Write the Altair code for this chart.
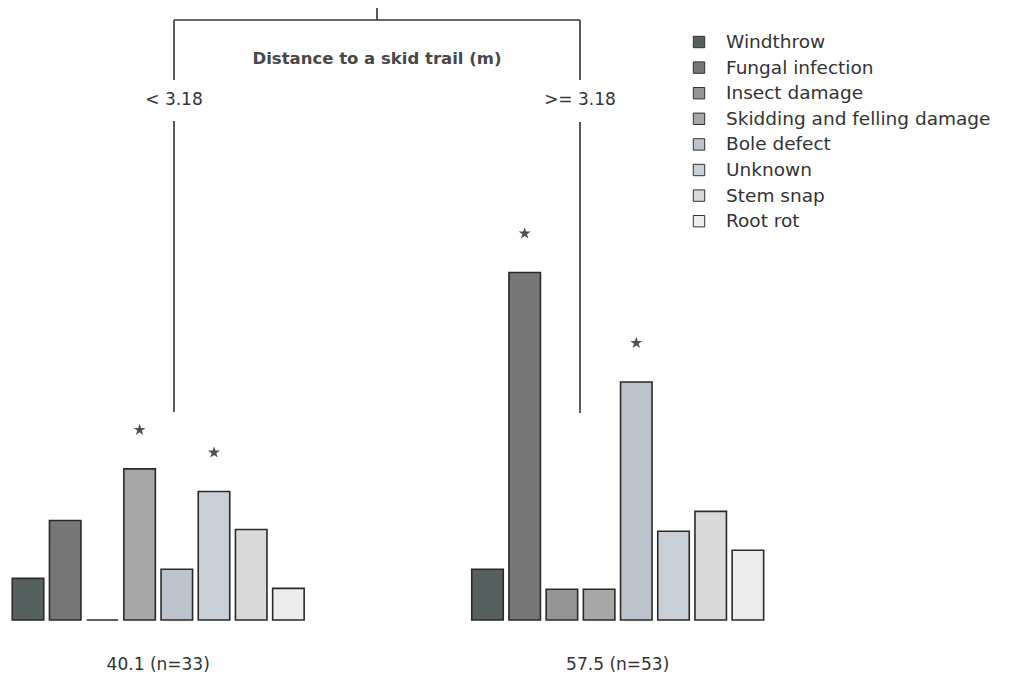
import altair as alt
import pandas as pd

# ---------------- data ----------------
causes = ["Windthrow", "Fungal infection", "Insect damage",
          "Skidding and felling damage", "Bole defect", "Unknown",
          "Stem snap", "Root rot"]
colors = ["#56605f", "#777777", "#959595", "#a7a7a7",
          "#bcc3cc", "#c9cfd7", "#d9d9d9", "#ededed"]
left_values = [2.3, 5.5, 0.0, 8.35, 2.8, 7.1, 5.0, 1.75]
right_values = [2.8, 19.2, 1.7, 1.7, 13.15, 4.9, 6.0, 3.85]
left_signif = ["Skidding and felling damage", "Unknown"]
right_signif = ["Fungal infection", "Bole defect"]
leaf_means = [40.1, 57.5]
leaf_n = [33, 53]
split_variable = "Distance to a skid trail (m)"
split_labels = ["< 3.18", ">= 3.18"]

# ---------------- layout ----------------
W, H = 1005, 665
BASE_PX = 612
PX_PER_UNIT = 18.1
PITCH = 37.2
BAR_HALF = 15.75
leaf_x0 = [20, 479.5]
branch_x = [166, 572]
root_x = (branch_x[0] + branch_x[1]) / 2
FONT = "DejaVu Sans"
TXT = "#333333"

xs = alt.Scale(domain=[0, W], nice=False, zero=False)
ys = alt.Scale(domain=[-(H - BASE_PX) / PX_PER_UNIT, BASE_PX / PX_PER_UNIT],
               nice=False, zero=False)
ps = alt.Scale(domain=[0, H], reverse=True, nice=False, zero=False)
cs = alt.Scale(domain=causes, range=colors)

rows = []
for leaf, (vals, sig) in enumerate([(left_values, left_signif),
                                    (right_values, right_signif)]):
    for i, (c, v) in enumerate(zip(causes, vals)):
        xc = leaf_x0[leaf] + i * PITCH
        rows.append(dict(leaf=leaf, cause=c, value=v, xa=xc - BAR_HALF,
                         xb=xc + BAR_HALF, xc=xc, sig=c in sig))
bars_df = pd.DataFrame(rows)

bars = alt.Chart(bars_df).mark_bar(stroke="#2a2a2a", strokeWidth=1.6).encode(
    x=alt.X("xa:Q", scale=xs, axis=None),
    x2="xb:Q",
    y=alt.Y("value:Q", scale=ys, axis=None),
    y2=alt.datum(0),
    color=alt.Color("cause:N", scale=cs, legend=None),
)

STAR = ("M0,-1L0.2245,-0.309L0.951,-0.309L0.363,0.118L0.588,0.809L0,0.382"
        "L-0.588,0.809L-0.363,0.118L-0.951,-0.309L-0.2245,-0.309Z")
stars = alt.Chart(bars_df).transform_filter("datum.sig").transform_calculate(
    sy="datum.value + 39/" + str(PX_PER_UNIT)
).mark_point(shape=STAR, filled=True, size=160, color="#505050", opacity=1).encode(
    x=alt.X("xc:Q", scale=xs, axis=None),
    y=alt.Y("sy:Q", scale=ys, axis=None),
)

leaf_df = pd.DataFrame({
    "x": [leaf_x0[k] + 3.5 * PITCH for k in range(2)],
    "y": [657, 657],
    "label": [f"{m} (n={n})" for m, n in zip(leaf_means, leaf_n)],
})
leaf_text = alt.Chart(leaf_df).mark_text(font=FONT, fontSize=17, color=TXT).encode(
    x=alt.X("x:Q", scale=xs, axis=None),
    y=alt.Y("y:Q", scale=ps, axis=None),
    text="label:N",
)

tree_df = pd.DataFrame({
    "x": [root_x, branch_x[0], branch_x[0], branch_x[0], branch_x[1], branch_x[1]],
    "x2": [root_x, branch_x[1], branch_x[0], branch_x[0], branch_x[1], branch_x[1]],
    "y": [0, 12, 12, 113, 12, 114],
    "y2": [12, 12, 72, 404, 72, 405],
})
tree = alt.Chart(tree_df).mark_rule(color="#333333", strokeWidth=1.6).encode(
    x=alt.X("x:Q", scale=xs, axis=None), x2="x2:Q",
    y=alt.Y("y:Q", scale=ps, axis=None), y2="y2:Q",
)

split_df = pd.DataFrame({
    "x": [branch_x[0], branch_x[1]],
    "y": [92, 92],
    "label": split_labels,
})
split_text = alt.Chart(split_df).mark_text(font=FONT, fontSize=17, color=TXT).encode(
    x=alt.X("x:Q", scale=xs, axis=None),
    y=alt.Y("y:Q", scale=ps, axis=None),
    text="label:N",
)
var_df = pd.DataFrame({"x": [root_x], "y": [51], "label": [split_variable]})
var_text = alt.Chart(var_df).mark_text(font=FONT, fontSize=16.5, fontWeight="bold",
                                       color="#474747").encode(
    x=alt.X("x:Q", scale=xs, axis=None),
    y=alt.Y("y:Q", scale=ps, axis=None),
    text="label:N",
)

leg_df = pd.DataFrame({
    "cause": causes,
    "sx": [691] * len(causes),
    "tx": [718] * len(causes),
    "y": [34 + 25.6 * i for i in range(len(causes))],
})
leg_sq = alt.Chart(leg_df).mark_square(size=130, stroke="#303030", strokeWidth=1,
                                       opacity=1).encode(
    x=alt.X("sx:Q", scale=xs, axis=None),
    y=alt.Y("y:Q", scale=ps, axis=None),
    color=alt.Color("cause:N", scale=cs, legend=None),
)
leg_txt = alt.Chart(leg_df).mark_text(font=FONT, fontSize=18.5, color=TXT,
                                      align="left", baseline="middle").encode(
    x=alt.X("tx:Q", scale=xs, axis=None),
    y=alt.Y("y:Q", scale=ps, axis=None),
    text="cause:N",
)

chart = alt.layer(
    tree, bars, stars, leaf_text, split_text, var_text, leg_sq, leg_txt
).resolve_scale(y="independent").properties(
    width=W, height=H, padding=0, autosize=alt.AutoSizeParams(type="none")
).configure_view(stroke=None)

chart.save("out.html", embed_options={"renderer": "svg", "actions": False})
